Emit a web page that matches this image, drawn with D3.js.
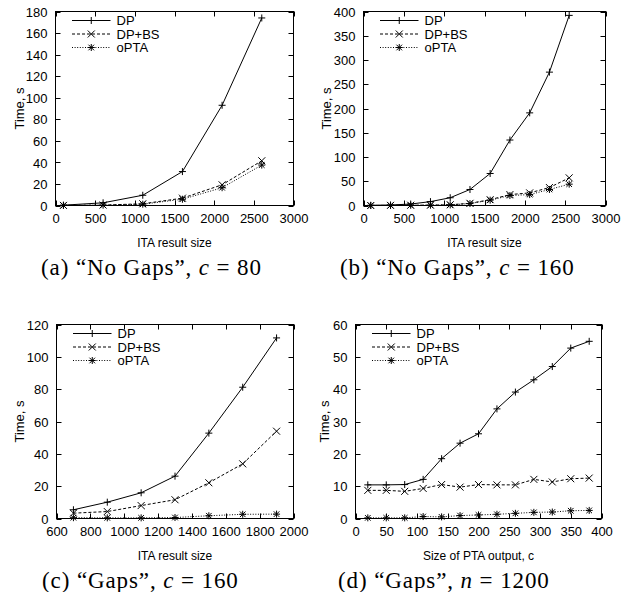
<!DOCTYPE html>
<html>
<head>
<meta charset="utf-8">
<script src="https://cdn.jsdelivr.net/npm/d3@7"></script>
<style>
    body { margin: 0; background: #fff; }
    text { font-family: "Liberation Sans", Arial, sans-serif; }
    .cap { font-family: "Liberation Serif", "Times New Roman", serif; }
</style>
</head>
<body>
<svg id="chart" width="624" height="592"></svg>
<script>
"use strict";

var seriesNames = ["DP", "DP+BS", "oPTA"];

// (a) "No Gaps", c = 80
var a_x = [100, 600, 1100, 1600, 2100, 2600];
var a_dp = [0.3, 2.5, 9.5, 31.5, 93, 174];
var a_bs = [0.1, 0.4, 1.6, 6.8, 19.2, 41.5];
var a_opta = [0.1, 0.3, 1.2, 5.8, 16.5, 37.5];

// (b) "No Gaps", c = 160
var b_x = [90, 335, 585, 830, 1075, 1320, 1570, 1815, 2060, 2305, 2550];
var b_dp = [0.5, 1, 3, 8, 16, 33, 66, 135, 191, 275, 392];
var b_bs = [0, 0.3, 0.5, 0.8, 1.5, 4.5, 12, 22.5, 26, 37, 57];
var b_opta = [0, 0.2, 0.4, 0.6, 1.2, 4, 11, 20.5, 22.5, 33, 44];

// (c) "Gaps", c = 160
var c_x = [700, 900, 1100, 1300, 1500, 1700, 1900];
var c_dp = [5.4, 10.1, 15.9, 26.2, 52.8, 81.2, 111.7];
var c_bs = [3.3, 4.3, 8, 11.6, 22.1, 33.8, 54];
var c_opta = [0.5, 0.4, 0.4, 0.6, 1.7, 2.6, 2.7];

// (d) "Gaps", n = 1200
var d_x = [20, 50, 80, 110, 140, 170, 200, 230, 260, 290, 320, 350, 380];
var d_dp = [10.4, 10.4, 10.5, 12.1, 18.5, 23.3, 26.2, 33.9, 39.1, 42.9, 47.0, 52.7, 54.8];
var d_bs = [8.7, 8.7, 8.4, 9.3, 10.5, 9.7, 10.5, 10.4, 10.4, 12.1, 11.3, 12.3, 12.5];
var d_opta = [0.2, 0.2, 0.2, 0.6, 0.5, 0.9, 1.1, 1.3, 1.6, 1.9, 2.0, 2.4, 2.5];

// tick values
var ticks_ab_x = [0, 500, 1000, 1500, 2000, 2500, 3000];
var ticks_a_y = [0, 20, 40, 60, 80, 100, 120, 140, 160, 180];
var ticks_b_y = [0, 50, 100, 150, 200, 250, 300, 350, 400];
var ticks_c_x = [600, 800, 1000, 1200, 1400, 1600, 1800, 2000];
var ticks_c_y = [0, 20, 40, 60, 80, 100, 120];
var ticks_d_x = [0, 50, 100, 150, 200, 250, 300, 350, 400];
var ticks_d_y = [0, 10, 20, 30, 40, 50, 60];

var svg = d3.select("#chart");

var dashes = ["none", "3,2", "1,1.6"];
var fmt = d3.format("d");

function drawMarker(g, kind, cx, cy) {
    var s = 3.5;
    var p = d3.path();
    if (kind == 0 || kind == 2) {
        p.moveTo(cx - s, cy); p.lineTo(cx + s, cy);
        p.moveTo(cx, cy - s); p.lineTo(cx, cy + s);
    }
    if (kind == 1 || kind == 2) {
        var t = kind == 2 ? 2.8 : 3.5;
        p.moveTo(cx - t, cy - t); p.lineTo(cx + t, cy + t);
        p.moveTo(cx - t, cy + t); p.lineTo(cx + t, cy - t);
    }
    g.append("path")
        .attr("d", p.toString())
        .attr("stroke", "#000")
        .attr("stroke-width", 1)
        .attr("fill", "none");
}

function drawPanel(cfg) {
    var x = d3.scaleLinear().domain(cfg.xdom).range([cfg.left, cfg.right]);
    var y = d3.scaleLinear().domain(cfg.ydom).range([cfg.bottom, cfg.top]);
    var g = svg.append("g");
    var tl = 5;

    // gnuplot style ticks: inward on all four sides
    var xa = d3.axisBottom(x).tickValues(cfg.xticks).tickFormat(fmt).tickSize(0).tickPadding(0);
    g.append("g")
        .attr("transform", "translate(0," + cfg.bottom + ")")
        .call(xa)
        .call(function(s) {
            s.select(".domain").remove();
            s.selectAll("text")
                .attr("y", 17)
                .attr("dy", null)
                .attr("font-size", 13)
                .attr("font-family", "Liberation Sans, Arial, sans-serif")
                .attr("fill", "#000");
        });
    var ya = d3.axisLeft(y).tickValues(cfg.yticks).tickFormat(fmt).tickSize(0).tickPadding(8);
    g.append("g")
        .attr("transform", "translate(" + cfg.left + ",0)")
        .call(ya)
        .call(function(s) {
            s.select(".domain").remove();
            s.selectAll("text")
                .attr("dy", "0.36em")
                .attr("font-size", 13)
                .attr("font-family", "Liberation Sans, Arial, sans-serif")
                .attr("fill", "#000");
        });

    cfg.xticks.forEach(function(v) {
        var px = Math.round(x(v)) + 0.5;
        g.append("line").attr("x1", px).attr("x2", px)
            .attr("y1", cfg.bottom).attr("y2", cfg.bottom - tl).attr("stroke", "#000");
        g.append("line").attr("x1", px).attr("x2", px)
            .attr("y1", cfg.top).attr("y2", cfg.top + tl).attr("stroke", "#000");
    });
    cfg.yticks.forEach(function(v) {
        var py = Math.round(y(v)) + 0.5;
        g.append("line").attr("y1", py).attr("y2", py)
            .attr("x1", cfg.left).attr("x2", cfg.left + tl).attr("stroke", "#000");
        g.append("line").attr("y1", py).attr("y2", py)
            .attr("x1", cfg.right).attr("x2", cfg.right - tl).attr("stroke", "#000");
    });

    g.append("rect")
        .attr("x", cfg.left).attr("y", cfg.top)
        .attr("width", cfg.right - cfg.left).attr("height", cfg.bottom - cfg.top)
        .attr("fill", "none").attr("stroke", "#000").attr("stroke-width", 1);

    // series
    var line = d3.line()
        .x(function(d) { return x(d[0]); })
        .y(function(d) { return y(d[1]); });
    cfg.series.forEach(function(vals, k) {
        var pts = cfg.xs.map(function(v, i) { return [v, vals[i]]; });
        g.append("path")
            .datum(pts)
            .attr("d", line)
            .attr("fill", "none")
            .attr("stroke", "#000")
            .attr("stroke-width", 1)
            .attr("stroke-dasharray", dashes[k]);
        pts.forEach(function(d) { drawMarker(g, k, x(d[0]), y(d[1])); });
    });

    // legend
    seriesNames.forEach(function(name, k) {
        var ly = cfg.top + 9 + k * 13.5;
        var x1 = cfg.left + 16.5, x2 = cfg.left + 55;
        g.append("line")
            .attr("x1", x1).attr("x2", x2).attr("y1", ly).attr("y2", ly)
            .attr("stroke", "#000").attr("stroke-dasharray", dashes[k]);
        drawMarker(g, k, (x1 + x2) / 2, ly);
        g.append("text")
            .attr("x", cfg.left + 61).attr("y", ly + 4.8)
            .attr("font-size", 13)
            .text(name);
    });

    // axis titles
    g.append("text")
        .attr("x", (cfg.left + cfg.right) / 2).attr("y", cfg.bottom + 41)
        .attr("text-anchor", "middle")
        .attr("font-size", 12)
        .text(cfg.xlabel);
    g.append("text")
        .attr("transform", "translate(" + cfg.ylabelX + "," + (cfg.top + cfg.bottom) / 2 + ") rotate(-90)")
        .attr("text-anchor", "middle")
        .attr("font-size", 13)
        .text("Time, s");

    // caption
    var cap = g.append("text")
        .attr("class", "cap")
        .attr("x", cfg.capX).attr("y", cfg.bottom + 69)
        .attr("font-size", 23)
        .attr("letter-spacing", 0.9);
    cap.append("tspan").text(cfg.cap[0]);
    cap.append("tspan").attr("font-style", "italic").text(cfg.cap[1]);
    cap.append("tspan").text(cfg.cap[2]);
}

drawPanel({
    left: 55.5, right: 293.5, top: 11.5, bottom: 205.5,
    xdom: [0, 3000], ydom: [0, 180], xticks: ticks_ab_x, yticks: ticks_a_y,
    xs: a_x, series: [a_dp, a_bs, a_opta],
    xlabel: "ITA result size", ylabelX: 24,
    capX: 41, cap: ["(a) \u201cNo Gaps\u201d, ", "c", " = 80"]
});
drawPanel({
    left: 363.5, right: 605.5, top: 11.5, bottom: 205.5,
    xdom: [0, 3000], ydom: [0, 400], xticks: ticks_ab_x, yticks: ticks_b_y,
    xs: b_x, series: [b_dp, b_bs, b_opta],
    xlabel: "ITA result size", ylabelX: 331,
    capX: 340, cap: ["(b) \u201cNo Gaps\u201d, ", "c", " = 160"]
});
drawPanel({
    left: 56.5, right: 293.5, top: 324.5, bottom: 518.5,
    xdom: [600, 2000], ydom: [0, 120], xticks: ticks_c_x, yticks: ticks_c_y,
    xs: c_x, series: [c_dp, c_bs, c_opta],
    xlabel: "ITA result size", ylabelX: 24,
    capX: 42, cap: ["(c) \u201cGaps\u201d, ", "c", " = 160"]
});
drawPanel({
    left: 355.5, right: 601.5, top: 324.5, bottom: 518.5,
    xdom: [0, 400], ydom: [0, 60], xticks: ticks_d_x, yticks: ticks_d_y,
    xs: d_x, series: [d_dp, d_bs, d_opta],
    xlabel: "Size of PTA output, c", ylabelX: 329,
    capX: 338, cap: ["(d) \u201cGaps\u201d, ", "n", " = 1200"]
});
</script>
</body>
</html>
